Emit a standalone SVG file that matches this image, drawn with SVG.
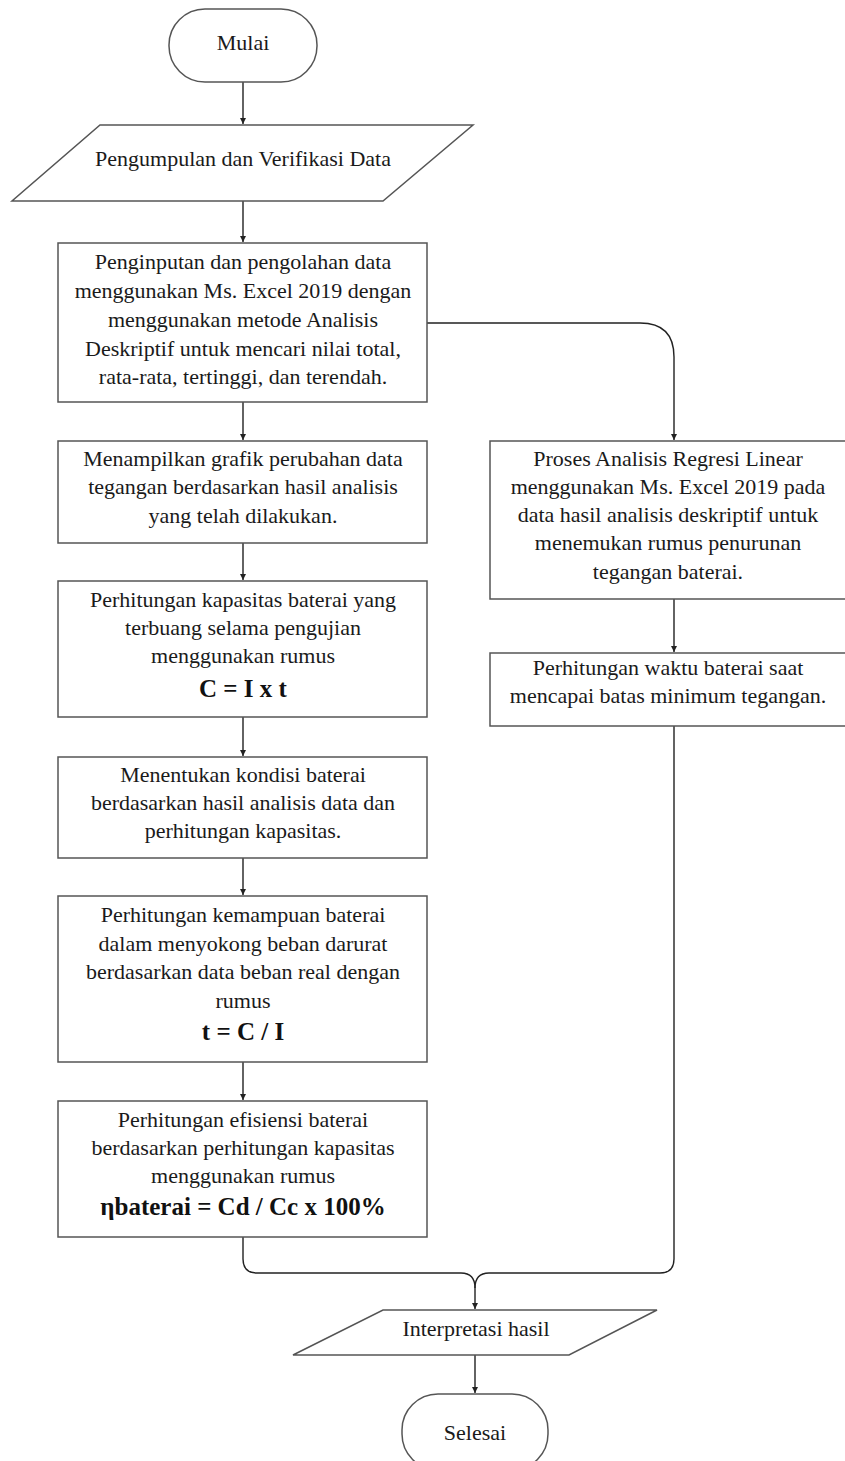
<svg xmlns="http://www.w3.org/2000/svg" width="845" height="1461" viewBox="0 0 845 1461">
<style>
.box{fill:#fff;stroke:#555;stroke-width:1.5}
.t{font-family:"Liberation Serif","Times New Roman",serif;font-size:22px;fill:#1a1a1a;text-anchor:middle}
.b{font-family:"Liberation Serif","Times New Roman",serif;font-size:25px;font-weight:bold;fill:#111;text-anchor:middle}
.c{fill:none;stroke:#222;stroke-width:1.4}
</style>
<defs>
<marker id="ah" markerWidth="8" markerHeight="8" refX="6" refY="3" orient="auto" markerUnits="userSpaceOnUse">
<path d="M0,0 L6,3 L0,6 Z" fill="#222"/>
</marker>
</defs>
<rect width="845" height="1461" fill="#fff"/>
<g id="connectors">
<path class="c" d="M243,82 V124" marker-end="url(#ah)"/>
<path class="c" d="M243,201 V242" marker-end="url(#ah)"/>
<path class="c" d="M243,402 V440" marker-end="url(#ah)"/>
<path class="c" d="M243,543 V580" marker-end="url(#ah)"/>
<path class="c" d="M243,717 V756" marker-end="url(#ah)"/>
<path class="c" d="M243,858 V895" marker-end="url(#ah)"/>
<path class="c" d="M243,1062 V1100" marker-end="url(#ah)"/>
<path class="c" d="M427,323 H640 Q674,323 674,357 V440" marker-end="url(#ah)"/>
<path class="c" d="M674,599 V652" marker-end="url(#ah)"/>
<path class="c" d="M243,1237 V1259 Q243,1273 257,1273 H461 Q475,1273 475,1288 V1309" marker-end="url(#ah)"/>
<path class="c" d="M674,726 V1259 Q674,1273 660,1273 H489 Q475,1273 475,1288"/>
<path class="c" d="M475,1355 V1393" marker-end="url(#ah)"/>
</g>
<g id="mulai">
<rect class="box" x="169" y="9" width="148" height="73" rx="36" ry="36"/>
<text class="t" x="243" y="50">Mulai</text>
</g>
<g id="pengumpulan">
<polygon class="box" points="100,125 473,125 383,201 12,201"/>
<text class="t" x="243" y="166">Pengumpulan dan Verifikasi Data</text>
</g>
<g id="penginputan">
<rect class="box" x="58" y="243" width="369" height="159"/>
<text class="t" x="243" y="269">Penginputan dan pengolahan data</text>
<text class="t" x="243" y="298">menggunakan Ms. Excel 2019 dengan</text>
<text class="t" x="243" y="327">menggunakan metode Analisis</text>
<text class="t" x="243" y="356">Deskriptif untuk mencari nilai total,</text>
<text class="t" x="243" y="384">rata-rata, tertinggi, dan terendah.</text>
</g>
<g id="grafik">
<rect class="box" x="58" y="441" width="369" height="102"/>
<text class="t" x="243" y="466">Menampilkan grafik perubahan data</text>
<text class="t" x="243" y="494">tegangan berdasarkan hasil analisis</text>
<text class="t" x="243" y="523">yang telah dilakukan.</text>
</g>
<g id="kapasitas">
<rect class="box" x="58" y="581" width="369" height="136"/>
<text class="t" x="243" y="607">Perhitungan kapasitas baterai yang</text>
<text class="t" x="243" y="635">terbuang selama pengujian</text>
<text class="t" x="243" y="663">menggunakan rumus</text>
<text class="b" x="243" y="697">C = I x t</text>
</g>
<g id="kondisi">
<rect class="box" x="58" y="757" width="369" height="101"/>
<text class="t" x="243" y="782">Menentukan kondisi baterai</text>
<text class="t" x="243" y="810">berdasarkan hasil analisis data dan</text>
<text class="t" x="243" y="838">perhitungan kapasitas.</text>
</g>
<g id="kemampuan">
<rect class="box" x="58" y="896" width="369" height="166"/>
<text class="t" x="243" y="922">Perhitungan kemampuan baterai</text>
<text class="t" x="243" y="951">dalam menyokong beban darurat</text>
<text class="t" x="243" y="979">berdasarkan data beban real dengan</text>
<text class="t" x="243" y="1008">rumus</text>
<text class="b" x="243" y="1040">t = C / I</text>
</g>
<g id="efisiensi">
<rect class="box" x="58" y="1101" width="369" height="136"/>
<text class="t" x="243" y="1127">Perhitungan efisiensi baterai</text>
<text class="t" x="243" y="1155">berdasarkan perhitungan kapasitas</text>
<text class="t" x="243" y="1183">menggunakan rumus</text>
<text class="b" x="243" y="1215">ηbaterai = Cd / Cc x 100%</text>
</g>
<g id="regresi">
<rect class="box" x="490" y="441" width="356" height="158"/>
<text class="t" x="668" y="466">Proses Analisis Regresi Linear</text>
<text class="t" x="668" y="494">menggunakan Ms. Excel 2019 pada</text>
<text class="t" x="668" y="522">data hasil analisis deskriptif untuk</text>
<text class="t" x="668" y="550">menemukan rumus penurunan</text>
<text class="t" x="668" y="579">tegangan baterai.</text>
</g>
<g id="waktu">
<rect class="box" x="490" y="653" width="356" height="73"/>
<text class="t" x="668" y="675">Perhitungan waktu baterai saat</text>
<text class="t" x="668" y="703">mencapai batas minimum tegangan.</text>
</g>
<g id="interpretasi">
<polygon class="box" points="383,1310 657,1310 569,1355 293,1355"/>
<text class="t" x="476" y="1336">Interpretasi hasil</text>
</g>
<g id="selesai">
<rect class="box" x="402" y="1394" width="146" height="76" rx="36" ry="36"/>
<text class="t" x="475" y="1440">Selesai</text>
</g>
</svg>
